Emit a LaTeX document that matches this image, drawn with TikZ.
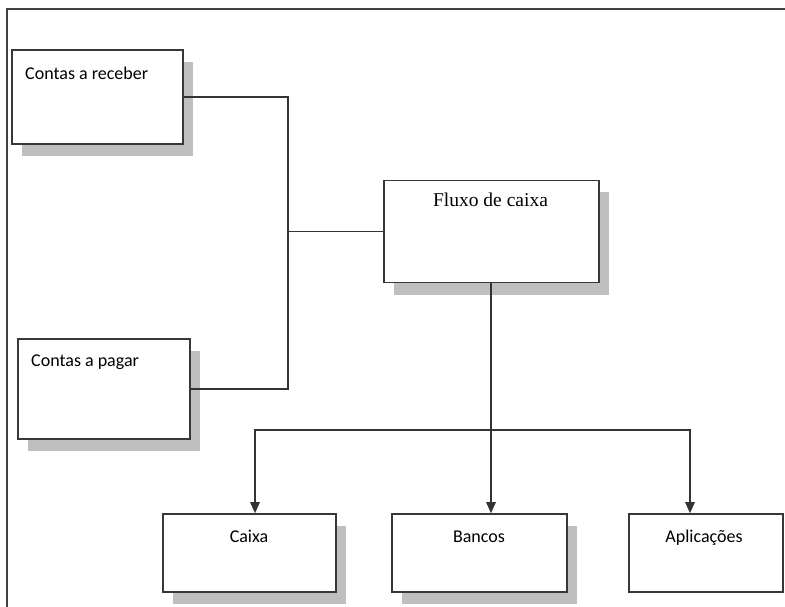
\documentclass[tikz,border=0pt]{standalone}
\usepackage{fontspec}
\setmainfont{Carlito}
\newfontfamily\serifface{Liberation Serif}
\usetikzlibrary{arrows.meta,shadows}
\begin{document}
\begin{tikzpicture}[x=1pt,y=-1pt,
  box/.style={draw=black!78,line width=1.6pt,fill=white,inner sep=0pt,
    drop shadow={shadow xshift=10pt,shadow yshift=-12pt,fill=black!25,opacity=1}},
  plainbox/.style={draw=black!78,line width=1.6pt,fill=white,inner sep=0pt},
  lbl/.style={inner sep=0pt,font=\fontsize{18}{20}\selectfont},
  conn/.style={draw=black!80,line width=1.4pt},
  arr/.style={conn,-{Triangle[length=11pt,width=9.5pt]}}]
  \useasboundingbox (0,0) rectangle (785,607);

  % frame (left and top edges)
  \draw[black!75,line width=2pt] (7,607) -- (7,9) -- (785,9);

  % boxes
  \node[box,minimum width=171pt,minimum height=94pt] (rec) at (97.5,97) {};
  \node[box,minimum width=172pt,minimum height=100pt] (pag) at (104,389) {};
  \node[box,minimum width=215pt,minimum height=102pt] (flx) at (491.5,231.5) {};
  \node[box,minimum width=173pt,minimum height=78pt] (cx) at (249.5,553) {};
  \node[box,minimum width=175pt,minimum height=78pt] (bn) at (479.5,553) {};
  \node[plainbox,minimum width=154pt,minimum height=78pt] (ap) at (706,553) {};

  % labels
  \node[lbl,anchor=base west] (trec) at (25,80) {Contas a receber};
  \node[lbl,anchor=base west] (tpag) at (31,366) {Contas a pagar};
  \node[lbl,anchor=base,font=\serifface\fontsize{19.5}{22}\selectfont] (tflx) at (490.5,207) {Fluxo de caixa};
  \node[lbl,anchor=base] (tcx) at (249,542) {Caixa};
  \node[lbl,anchor=base] (tbn) at (479,542) {Bancos};
  \node[lbl,anchor=base] (tap) at (704,542) {Aplicações};

  % inputs to the cash flow
  \coordinate (bus) at (288,231.5);
  \draw[conn] (rec.east) -| (bus) -- (flx.west);
  \draw[conn] (pag.east) -| (bus);

  % outputs of the cash flow
  \coordinate (fork) at (491,430);
  \draw[arr] (flx.south -| fork) -- (fork |- bn.north);
  \draw[arr] (fork) -| ([xshift=5.5pt]cx.north);
  \draw[arr] (fork) -| ([xshift=-16pt]ap.north);
\end{tikzpicture}
\end{document}
